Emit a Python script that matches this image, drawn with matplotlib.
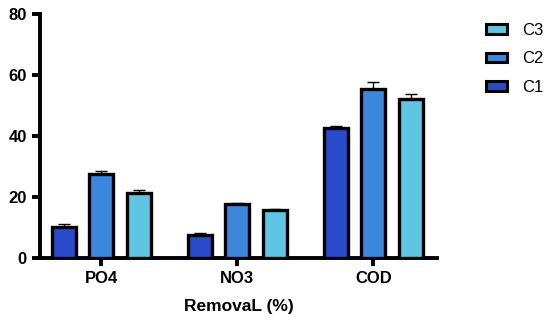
import matplotlib
matplotlib.use("Agg")
import matplotlib.pyplot as plt
import numpy as np
from matplotlib.patches import Patch

plt.rcParams['font.family'] = ['Liberation Sans', 'DejaVu Sans']

categories = ["PO4", "NO3", "COD"]
series = ["C1", "C2", "C3"]
c1 = [10.2, 7.5, 42.6]
c2 = [27.5, 17.7, 55.5]
c3 = [21.4, 15.6, 52.2]
c1_err = [1.0, 0.6, 0.7]
c2_err = [0.9, 0.4, 2.3]
c3_err = [0.9, 0.4, 1.6]
colors = ["#2a4acc", "#3c87dc", "#5ec6e2"]

values = [c1, c2, c3]
errs = [c1_err, c2_err, c3_err]

fig = plt.figure(figsize=(5.5, 3.24), dpi=100)
ax = fig.add_axes([0.0727, 0.2037, 0.7223, 0.7533])

x = np.arange(len(categories))
offsets = [-0.276, 0.0, 0.276]
width = 0.176
for i in range(3):
    ax.bar(x + offsets[i], values[i], width, color=colors[i], edgecolor="black",
           linewidth=2.4, zorder=3)
    ax.errorbar(x + offsets[i], values[i], yerr=[np.zeros(3), errs[i]], fmt="none",
                ecolor="black", elinewidth=1.0, capsize=4, capthick=1.0, zorder=2)

ax.set_xlim(-0.449, 2.47)
ax.set_ylim(0, 80)
ax.set_yticks([0, 20, 40, 60, 80])
ax.set_xticks(x)
ax.set_xticklabels(categories)
for s in ["top", "right"]:
    ax.spines[s].set_visible(False)
for s in ["left", "bottom"]:
    ax.spines[s].set_linewidth(2.8)
ax.tick_params(axis="both", width=2.8, length=6, labelsize=12)
for lab in ax.get_xticklabels() + ax.get_yticklabels():
    lab.set_fontweight("bold")
ax.set_xlabel("RemovaL (%)", fontsize=12.5, fontweight="bold", labelpad=9)

handles = [Patch(facecolor=colors[i], edgecolor="black", linewidth=2.2, label=series[i])
           for i in [2, 1, 0]]
fig.legend(handles=handles, loc="upper left", bbox_to_anchor=(0.856, 0.975),
           frameon=False, fontsize=12, handlelength=1.3, handleheight=0.5,
           labelspacing=0.8, handletextpad=0.9)

fig.savefig("out.png", dpi=100)
